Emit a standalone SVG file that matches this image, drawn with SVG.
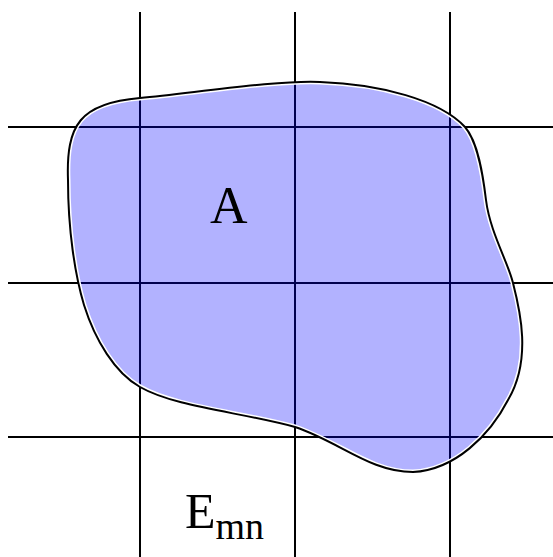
<svg xmlns="http://www.w3.org/2000/svg" width="553" height="557" viewBox="0 0 553 557">
<style>
.grid line{stroke:#000;stroke-width:2}
.lbl{font-family:"Liberation Serif","Times New Roman",serif;fill:#000}
</style>
<defs>
<path id="blobPath" d="M 68 180 C 66 125, 80 103, 140 98 C 200 92, 280 80, 320 82 C 380 84, 440 100, 465 127 C 478 142, 483 175, 486 200 C 490 232, 508 262, 513 283 C 520 310, 532 360, 508 400 C 490 435, 455 470, 413 472 C 370 472, 340 442, 295 427 C 240 412, 175 407, 140 387 C 115 373, 95 340, 84 305 C 75 275, 68 230, 68 180 Z"/>
<clipPath id="blobClip"><use href="#blobPath"/></clipPath>
</defs>
<rect width="553" height="557" fill="#fff"/>
<g id="connectors" class="grid">
<line x1="140" y1="12" x2="140" y2="557"/>
<line x1="295" y1="12" x2="295" y2="557"/>
<line x1="450" y1="12" x2="450" y2="557"/>
<line x1="8" y1="127" x2="553" y2="127"/>
<line x1="8" y1="283" x2="553" y2="283"/>
<line x1="8" y1="437" x2="553" y2="437"/>
</g>
<g id="regionA">
<use href="#blobPath" fill="#0000ff" fill-opacity="0.3"/>
<use href="#blobPath" fill="none" stroke="#fff" stroke-width="5" clip-path="url(#blobClip)"/>
<use href="#blobPath" fill="none" stroke="#000" stroke-width="2"/>
<text class="lbl" x="210" y="223" font-size="52">A</text>
</g>
<g id="cellEmn">
<text class="lbl" x="185" y="528" font-size="50">E<tspan font-size="38" dy="11">mn</tspan></text>
</g>
</svg>
